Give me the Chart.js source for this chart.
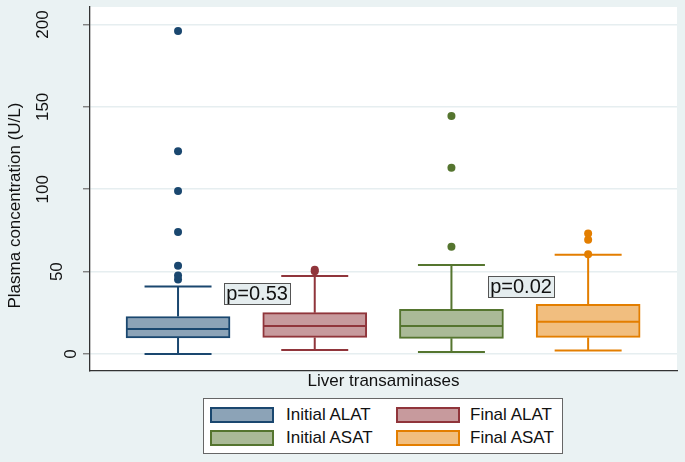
<!DOCTYPE html>
<html><head><meta charset="utf-8">
<script src="https://cdn.jsdelivr.net/npm/chart.js@4.4.0/dist/chart.umd.min.js"></script>
<style>
html,body{margin:0;padding:0;background:#eaf2f3;}
#wrap{position:relative;width:685px;height:462px;overflow:hidden;}
canvas{position:absolute;left:0;top:0;}
#legend{position:absolute;left:203px;top:398px;width:360px;height:56px;background:#fff;border:1px solid #666;box-sizing:border-box;font-family:'Liberation Sans',Arial,sans-serif;font-size:17px;color:#111;}
.sw{position:absolute;width:64px;height:16px;box-sizing:border-box;border:2px solid;}
.lt{position:absolute;line-height:20px;white-space:nowrap;}
</style></head><body>
<div id="wrap"><canvas id="c" width="685" height="462"></canvas><div id="legend"></div></div>
<script>
// ---- data ----
const categories = ['Initial ALAT', 'Final ALAT', 'Initial ASAT', 'Final ASAT'];
const lowerWhisker = [0, 2.4, 1.2, 2.2];
const q1 = [9.8, 10.1, 9.5, 10.1];
const median = [15.2, 17.0, 17.0, 19.6];
const q3 = [22.8, 25.1, 27.1, 30.2];
const upperWhisker = [41.0, 47.3, 54.0, 60.3];
const outliersInitialALAT = [45.3, 47.7, 53.5, 74, 99, 123, 196];
const outliersFinalALAT = [50.3, 51.2];
const outliersInitialASAT = [65.1, 113, 144.4];
const outliersFinalASAT = [60.5, 69.4, 73.2];
const yTickValues = [0, 50, 100, 150, 200];
const pValueTexts = ['p=0.53', 'p=0.02'];

// ---- layout / style ----
const outliers = [outliersInitialALAT, outliersFinalALAT, outliersInitialASAT, outliersFinalASAT];
const pLabelAnchors = [[1.578, 36.7], [3.509, 40.8]];
const colorsDark = ['#1a476f', '#90353b', '#55752f', '#e37e00'];
const colorsFill = ['#8ca3b7', '#c79a9d', '#aaba97', '#f1be7f'];
const boxHalf = 0.374, capHalf = 0.245;
const FONT = "'Liberation Sans', Arial, sans-serif";
Chart.defaults.font.family = FONT;
Chart.defaults.color = '#111';

const datasets = [];
categories.forEach((name, i) => {
  const x = i + 1;
  datasets.push({
    type: 'scatter', label: name + ' outliers',
    data: outliers[i].map(v => ({x: x, y: v})),
    pointRadius: 4, pointHoverRadius: 4, pointBorderWidth: 0,
    backgroundColor: colorsDark[i], borderColor: colorsDark[i], order: 0
  });
  datasets.push({
    type: 'line', label: name + ' whiskers',
    data: [
      {x: x - capHalf, y: upperWhisker[i]}, {x: x + capHalf, y: upperWhisker[i]}, {x: x, y: null},
      {x: x, y: upperWhisker[i]}, {x: x, y: q3[i]}, {x: x, y: null},
      {x: x, y: q1[i]}, {x: x, y: lowerWhisker[i]}, {x: x, y: null},
      {x: x - capHalf, y: lowerWhisker[i]}, {x: x + capHalf, y: lowerWhisker[i]}, {x: x, y: null},
      {x: x - boxHalf, y: median[i]}, {x: x + boxHalf, y: median[i]}
    ],
    borderColor: colorsDark[i], borderWidth: 2, pointRadius: 0, spanGaps: false,
    fill: false, tension: 0, order: 1
  });
  datasets.push({
    type: 'bar', label: name,
    data: [{x: x, y: [q1[i], q3[i]]}],
    backgroundColor: colorsFill[i], borderColor: colorsDark[i], borderWidth: 2,
    borderSkipped: false, barThickness: 104, grouped: false, order: 2
  });
});

const bgPlugin = {
  id: 'bg',
  beforeDraw(chart) {
    const {ctx, chartArea: a} = chart;
    ctx.save();
    ctx.fillStyle = '#eaf2f3';
    ctx.fillRect(0, 0, chart.width, chart.height);
    ctx.fillStyle = '#ffffff';
    ctx.fillRect(a.left, a.top, a.right - a.left, a.bottom - a.top);
    ctx.restore();
  }
};

const yLabelPlugin = {
  id: 'ylabels',
  afterDraw(chart) {
    const {ctx} = chart;
    const ys = chart.scales.y;
    ctx.save();
    ctx.font = '17px ' + FONT;
    ctx.fillStyle = '#111';
    ctx.textAlign = 'center';
    ctx.textBaseline = 'middle';
    ys.ticks.forEach(t => {
      const label = String(t.value);
      const py = ys.getPixelForValue(t.value);
      const cx = 85 - 13.9 * label.length;
      ctx.save();
      ctx.translate(cx, py);
      ctx.rotate(-Math.PI / 2);
      ctx.fillText(label, 0, 0);
      ctx.restore();
    });
    ctx.restore();
  }
};

const pLabelPlugin = {
  id: 'plabels',
  afterDatasetsDraw(chart) {
    const {ctx} = chart;
    const xs = chart.scales.x, ys = chart.scales.y;
    ctx.save();
    ctx.font = '20px ' + FONT;
    ctx.textAlign = 'center';
    ctx.textBaseline = 'middle';
    pValueTexts.forEach((txt, i) => {
      const cx = xs.getPixelForValue(pLabelAnchors[i][0]);
      const cy = ys.getPixelForValue(pLabelAnchors[i][1]);
      const w = ctx.measureText(txt).width + 4;
      const h = 21;
      ctx.fillStyle = '#e5edef';
      ctx.fillRect(cx - w / 2, cy - h / 2, w, h);
      ctx.strokeStyle = '#555';
      ctx.lineWidth = 1;
      ctx.strokeRect(Math.round(cx - w / 2) + 0.5, Math.round(cy - h / 2) + 0.5, Math.round(w), h);
      ctx.fillStyle = '#111';
      ctx.fillText(txt, cx, cy + 1);
    });
    ctx.restore();
  }
};

new Chart(document.getElementById('c'), {
  type: 'bar',
  data: {datasets},
  plugins: [bgPlugin, yLabelPlugin, pLabelPlugin],
  options: {
    responsive: false,
    animation: false,
    events: [],
    layout: {padding: {left: 0, right: 8, top: 7, bottom: 70.6}},
    plugins: {legend: {display: false}, tooltip: {enabled: false}},
    scales: {
      x: {
        type: 'linear', min: 0.356, max: 4.65, offset: false,
        ticks: {display: false},
        grid: {display: false, drawTicks: false},
        border: {display: true, color: '#333', width: 1.3},
        title: {display: true, text: 'Liver transaminases', font: {size: 17}, color: '#111', padding: {top: 0, bottom: 0}}
      },
      y: {
        type: 'linear', min: -10.3, max: 210.6,
        afterBuildTicks(scale) { scale.ticks = yTickValues.map(v => ({value: v})); },
        ticks: {display: false},
        grid: {color: '#e6eef0', lineWidth: 1.5, drawTicks: true, tickLength: 7, tickColor: '#777', tickWidth: 1.3},
        border: {display: true, color: '#333', width: 1.3},
        title: {display: true, text: 'Plasma concentration (U/L)\u00a0\u00a0\u00a0\u00a0\u00a0\u00a0\u00a0', font: {size: 17}, color: '#111', padding: {top: 5, bottom: 57.6}}
      }
    }
  }
});

// HTML legend built from the category names and colours
const legend = document.getElementById('legend');
const slots = [[6, 8, 82, 6], [192, 8, 266, 6], [6, 31, 82, 29], [192, 31, 266, 29]];
categories.forEach((name, i) => {
  const s = slots[i];
  const sw = document.createElement('div');
  sw.className = 'sw';
  sw.style.left = s[0] + 'px'; sw.style.top = s[1] + 'px';
  sw.style.background = colorsFill[i]; sw.style.borderColor = colorsDark[i];
  legend.appendChild(sw);
  const t = document.createElement('div');
  t.className = 'lt';
  t.style.left = s[2] + 'px'; t.style.top = s[3] + 'px';
  t.textContent = name;
  legend.appendChild(t);
});
</script>
</body></html>
